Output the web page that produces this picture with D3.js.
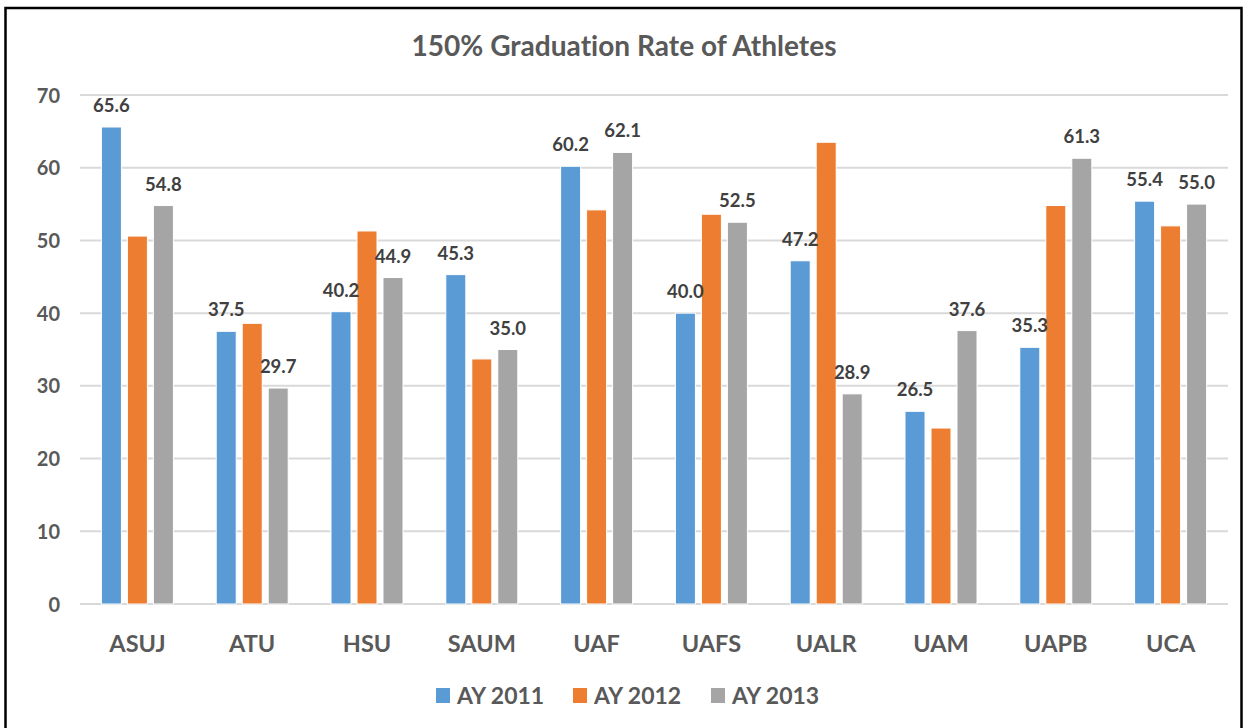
<!DOCTYPE html>
<html>
<head>
<meta charset="utf-8">
<script src="https://cdn.jsdelivr.net/npm/d3@7"></script>
<style>
body { margin: 0; background: #fff; }
text { font-family: Lato, "Open Sans", sans-serif; font-weight: bold; font-variant-ligatures: none; }
</style>
</head>
<body>
<svg id="svg" width="1244" height="728"></svg>
<script>
// chart data
var schools = ["ASUJ", "ATU", "HSU", "SAUM", "UAF", "UAFS", "UALR", "UAM", "UAPB", "UCA"];
var ay2011 = [65.6, 37.5, 40.2, 45.3, 60.2, 40.0, 47.2, 26.5, 35.3, 55.4];
var ay2012 = [50.6, 38.6, 51.3, 33.7, 54.2, 53.6, 63.5, 24.2, 54.8, 52.0];
var ay2013 = [54.8, 29.7, 44.9, 35.0, 62.1, 52.5, 28.9, 37.6, 61.3, 55.0];
var seriesNames = ["AY 2011", "AY 2012", "AY 2013"];
var yTicks = [0, 10, 20, 30, 40, 50, 60, 70];

var colors = ["#5B9BD5", "#ED7D31", "#A5A5A5"];
var showLabel = [true, false, true]; // orange bars have no labels in the original
var allSeries = [ay2011, ay2012, ay2013];

var svg = d3.select("#svg");

// outer frame
svg.append("rect")
 .attr("x", 5.5).attr("y", 8)
 .attr("width", 1236).attr("height", 740)
 .style("fill", "#fff")
 .style("stroke", "#000")
 .style("stroke-width", 2.5);

var plotLeft = 80, plotRight = 1228, plotTop = 95, plotBottom = 604;

var x0 = d3.scaleBand().domain(schools).range([plotLeft, plotRight]);
var x1 = d3.scaleBand().domain(d3.range(3)).range([-36, 36]).paddingInner(0.23);
var y = d3.scaleLinear().domain([0, 70]).range([plotBottom, plotTop]);

// title
svg.append("text")
 .attr("x", 624).attr("y", 56)
 .attr("text-anchor", "middle")
 .attr("textLength", 425)
 .attr("lengthAdjust", "spacingAndGlyphs")
 .style("font-size", "28px")
 .style("fill", "#595959")
 .text("150% Graduation Rate of Athletes");

// gridlines
svg.append("g").selectAll("line")
 .data(yTicks)
 .enter().append("line")
 .attr("x1", plotLeft).attr("x2", plotRight)
 .attr("y1", function(d){ return y(d); })
 .attr("y2", function(d){ return y(d); })
 .style("stroke", "#D9D9D9")
 .style("stroke-width", 2);

// y tick labels
var yAxis = svg.append("g")
 .attr("transform", "translate(60,0)")
 .call(d3.axisLeft(y).tickValues(yTicks).tickSize(0).tickPadding(0));
yAxis.select(".domain").remove();
yAxis.selectAll("text")
 .style("font-size", "20px")
 .style("fill", "#595959")
 .style("font-family", "Lato, sans-serif")
 .attr("dy", "0.35em");

// bars
var groups = svg.append("g").selectAll("g")
 .data(schools)
 .enter().append("g")
 .attr("transform", function(d){ return "translate(" + (x0(d) + x0.bandwidth() / 2) + ",0)"; });

groups.selectAll("rect")
 .data(function(d, i){ return allSeries.map(function(s, k){ return {k: k, v: s[i]}; }); })
 .enter().append("rect")
 .attr("x", function(d){ return x1(d.k); })
 .attr("width", x1.bandwidth())
 .attr("y", function(d){ return y(d.v); })
 .attr("height", function(d){ return plotBottom - y(d.v); })
 .style("fill", function(d){ return colors[d.k]; })
 .style("stroke", "#fff")
 .style("stroke-width", 1);

groups.selectAll("text")
 .data(function(d, i){ return allSeries.map(function(s, k){ return {k: k, v: s[i]}; }).filter(function(d){ return showLabel[d.k]; }); })
 .enter().append("text")
 .attr("x", function(d){ return x1(d.k) + x1.bandwidth() / 2; })
 .attr("y", function(d){ return y(d.v) - 15; })
 .attr("text-anchor", "middle")
 .style("font-size", "18.5px")
 .style("fill", "#404040")
 .text(function(d){ return d.v.toFixed(1); });

// category labels
var xAxis = svg.append("g")
 .attr("transform", "translate(0," + plotBottom + ")")
 .call(d3.axisBottom(x0).tickSize(0).tickPadding(0));
xAxis.select(".domain").remove();
xAxis.selectAll("text")
 .attr("y", 48).attr("dy", 0)
 .style("font-size", "23.5px")
 .style("fill", "#595959")
 .style("font-family", "Lato, sans-serif");

// legend
var legendX = [436, 573, 711];
var legend = svg.append("g").selectAll("g")
 .data(seriesNames)
 .enter().append("g")
 .attr("transform", function(d, i){ return "translate(" + legendX[i] + ",688)"; });
legend.append("rect")
 .attr("width", 14).attr("height", 15)
 .style("fill", function(d, i){ return colors[i]; });
legend.append("text")
 .attr("x", 21).attr("y", 16)
 .style("font-size", "23px")
 .style("fill", "#595959")
 .text(function(d){ return d; });
</script>
</body>
</html>
